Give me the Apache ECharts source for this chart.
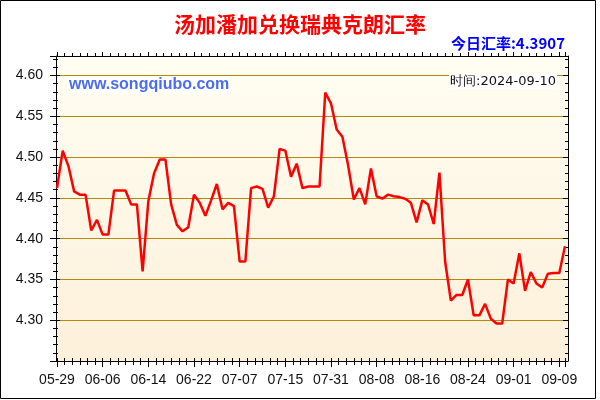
<!DOCTYPE html>
<html><head><meta charset="utf-8">
<script src="https://cdn.jsdelivr.net/npm/echarts@6/dist/echarts.min.js"></script>
<style>html,body{margin:0;padding:0;background:#fff}#c{width:600px;height:400px}</style>
</head><body><div id="c"></div>
<script>
// ---- data ----
const dates = [
  '05-29','05-30','05-31','06-01','06-02','06-03','06-04','06-05','06-06',
  '06-07','06-08','06-09','06-10','06-11','06-12','06-13','06-14',
  '06-15','06-16','06-17','06-18','06-19','06-20','06-21','06-22',
  '06-23','06-24','06-25','06-26','06-27','06-28','07-06','07-07',
  '07-08','07-09','07-10','07-11','07-12','07-13','07-14','07-15',
  '07-16','07-17','07-18','07-19','07-20','07-21','07-30','07-31',
  '08-01','08-02','08-03','08-04','08-05','08-06','08-07','08-08',
  '08-09','08-10','08-11','08-12','08-13','08-14','08-15','08-16',
  '08-17','08-18','08-19','08-20','08-21','08-22','08-23','08-24',
  '08-25','08-26','08-27','08-28','08-29','08-30','08-31','09-01',
  '09-02','09-03','09-04','09-05','09-06','09-07','09-08','09-09',
  '09-10'
];
const rates = [
  4.462,4.508,4.489,4.458,4.454,4.454,4.410,4.423,4.405,
  4.405,4.459,4.459,4.459,4.442,4.442,4.360,4.446,
  4.480,4.497,4.497,4.442,4.417,4.409,4.414,4.454,
  4.444,4.428,4.447,4.467,4.436,4.444,4.440,4.372,
  4.372,4.462,4.464,4.461,4.438,4.452,4.510,4.508,
  4.476,4.492,4.462,4.464,4.464,4.464,4.579,4.566,
  4.534,4.525,4.490,4.448,4.462,4.442,4.486,4.452,
  4.449,4.454,4.452,4.451,4.449,4.444,4.420,4.447,
  4.442,4.418,4.481,4.372,4.324,4.331,4.331,4.350,
  4.306,4.306,4.320,4.302,4.296,4.296,4.350,4.345,
  4.382,4.336,4.359,4.345,4.340,4.357,4.358,4.358,
  4.3907
];
const yLabelValues = [4.30, 4.35, 4.40, 4.45, 4.50, 4.55, 4.60];
const titleText = '汤加潘加兑换瑞典克朗汇率';
const rateCaption = '今日汇率:';
const currentRate = '4.3907';
const timeCaption = '时间:';
const dateText = '2024-09-10';
const siteText = 'www.songqiubo.com';

// ---- chart ----
const Y_MIN = 4.25, Y_MAX = 4.624;
const TICK_MAX = (dates.length - 1) * 0.75; // decorative tick scale: 6 ticks per 8 points
const chart = echarts.init(document.getElementById('c'), null, {renderer: 'canvas'});
const axisFont = 'Liberation Sans, Arial, sans-serif';
const labelColor = '#111';

function yBase(extra) {
  return Object.assign({
    type: 'value', gridIndex: 0, min: Y_MIN, max: Y_MAX, scale: true,
    axisLine: {show: false, onZero: false},
    axisTick: {show: false},
    axisLabel: {show: false},
    splitLine: {show: false}
  }, extra);
}
function xTick(extra) {
  return Object.assign({
    type: 'value', gridIndex: 1, min: 0, max: TICK_MAX, interval: 1,
    axisLine: {show: false, onZero: false},
    axisLabel: {show: false},
    splitLine: {show: false}
  }, extra);
}

const option = {
  animation: false,
  grid: [
    {left: 56, right: 32, top: 56, bottom: 39, show: true, borderWidth: 0,
     backgroundColor: {type: 'linear', x: 0, y: 0, x2: 0, y2: 1,
       colorStops: [{offset: 0, color: '#FFFEF2'}, {offset: 1, color: '#FCF0DA'}]}},
    {left: 57, right: 35, top: 56, bottom: 39}
  ],
  xAxis: [
    {type: 'category', gridIndex: 1, data: dates, boundaryGap: false, position: 'bottom',
     axisLine: {show: false, onZero: false}, axisTick: {show: false},
     axisLabel: {interval: 7, fontSize: 14, fontFamily: axisFont, color: labelColor, margin: 12}},
    xTick({position: 'bottom', axisTick: {show: true, inside: false, length: 4, lineStyle: {color: '#000'}}}),
    xTick({position: 'bottom', axisTick: {show: true, inside: true, length: 3, lineStyle: {color: '#000'}}}),
    xTick({position: 'bottom', interval: 6, axisTick: {show: true, inside: false, length: 6, lineStyle: {color: '#000'}}}),
    xTick({position: 'top', axisTick: {show: true, inside: false, length: 3, lineStyle: {color: '#000'}}}),
    xTick({position: 'top', interval: 6, axisTick: {show: true, inside: false, length: 4, lineStyle: {color: '#000'}}}),
    {type: 'value', gridIndex: 0, position: 'bottom', min: 0, max: 1,
     axisLine: {show: true, onZero: false, lineStyle: {color: '#000', width: 1}},
     axisTick: {show: false}, axisLabel: {show: false}, splitLine: {show: false}},
    {type: 'value', gridIndex: 0, position: 'top', min: 0, max: 1,
     axisLine: {show: true, onZero: false, lineStyle: {color: '#000', width: 1}},
     axisTick: {show: false}, axisLabel: {show: false}, splitLine: {show: false}}
  ],
  yAxis: [
    yBase({position: 'left', interval: 0.05,
      axisLine: {show: true, onZero: false, lineStyle: {color: '#000', width: 1}},
      axisTick: {show: true, inside: false, length: 6, lineStyle: {color: '#000'}},
      axisLabel: {show: true, fontSize: 14, fontFamily: axisFont, color: labelColor, margin: 13,
        formatter: function (v) {
          for (const t of yLabelValues) { if (Math.abs(v - t) < 1e-6) return t.toFixed(2); }
          return '';
        }},
      splitLine: {show: true, showMinLine: false, showMaxLine: false,
        lineStyle: {color: '#B8860B', width: 1}}}),
    yBase({position: 'left', interval: 0.05,
      axisTick: {show: true, inside: true, length: 4, lineStyle: {color: '#000'}}}),
    yBase({position: 'left', interval: 0.01,
      axisTick: {show: true, inside: false, length: 3, lineStyle: {color: '#000'}}}),
    yBase({position: 'left', interval: 0.01,
      axisTick: {show: true, inside: true, length: 2, lineStyle: {color: '#000'}}}),
    yBase({position: 'right', interval: 0.05,
      axisLine: {show: true, onZero: false, lineStyle: {color: '#000', width: 1}},
      axisTick: {show: true, inside: true, length: 5, lineStyle: {color: '#000'}}}),
    yBase({position: 'right', interval: 0.01,
      axisTick: {show: true, inside: true, length: 3, lineStyle: {color: '#000'}}}),
    yBase({gridIndex: 1, show: false})
  ],
  series: [{
    type: 'line', xAxisIndex: 0, yAxisIndex: 6, data: rates,
    symbol: 'none', smooth: false,
    lineStyle: {color: '#FF0000', width: 2.5}, z: 5
  }],
  graphic: [
    {type: 'rect', shape: {x: 0.5, y: 0.5, width: 595, height: 398},
     style: {fill: null, stroke: '#000', lineWidth: 1}, silent: true, z: 100},
    {type: 'text', x: 300, y: 24, style: {text: titleText, fill: '#FF0000',
      font: 'bold 21px "Noto Sans CJK SC", sans-serif', textAlign: 'center', textVerticalAlign: 'middle'}, z: 100},
    {type: 'text', x: 565, y: 43, style: {text: rateCaption + currentRate, fill: '#0000FF',
      font: 'bold 15px "Noto Sans CJK SC", "Liberation Sans", sans-serif', textAlign: 'right', textVerticalAlign: 'middle'}, z: 100},
    {type: 'text', x: 68, y: 85, style: {text: siteText, fill: '#4A6CF0',
      font: 'bold 16px "Liberation Sans", Arial, sans-serif', textAlign: 'left', textVerticalAlign: 'middle',
      backgroundColor: '#FFFFFF', padding: [1, 1, 0, 1]}, z: 100},
    {type: 'text', x: 557, y: 81.5, style: {text: timeCaption + dateText, fill: '#111',
      font: '13px "DejaVu Sans", sans-serif', textAlign: 'right', textVerticalAlign: 'middle',
      backgroundColor: '#FFFFFF', padding: [1, 1, 1, 1]}, z: 100}
  ]
};
chart.setOption(option);
</script></body></html>
